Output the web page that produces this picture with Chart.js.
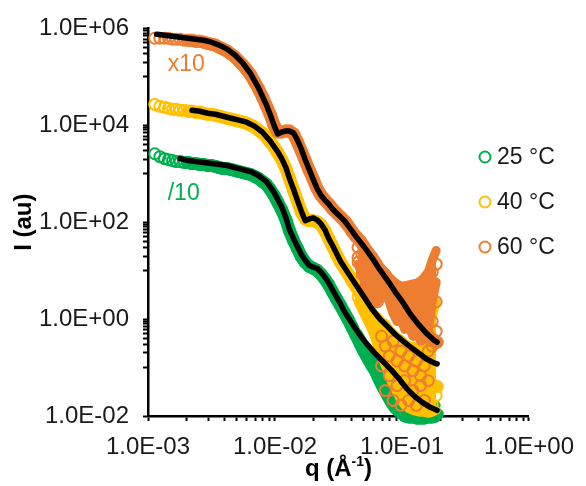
<!DOCTYPE html>
<html>
<head>
<meta charset="utf-8">
<script src="https://cdn.jsdelivr.net/npm/chart.js@4.4.1/dist/chart.umd.min.js"></script>
<style>
  html, body { margin: 0; padding: 0; background: #fff; }
  #wrap { width: 586px; height: 486px; }
</style>
</head>
<body>
<div id="wrap"><canvas id="saxs"></canvas></div>
<script>
// scattering vector q (1/Å), shared by the three runs
const qData = [
  1.13e-3, 1.24e-3, 1.35e-3, 1.45e-3, 1.56e-3, 1.67e-3, 1.79e-3, 1.93e-3, 2.07e-3, 2.22e-3,
  2.38e-3, 2.56e-3, 2.75e-3, 2.95e-3, 3.16e-3, 3.40e-3, 3.64e-3, 3.91e-3, 4.20e-3, 4.51e-3,
  4.84e-3, 5.19e-3, 5.57e-3, 5.98e-3, 6.42e-3, 6.89e-3, 7.40e-3, 7.94e-3, 8.53e-3, 9.15e-3,
  9.82e-3, 1.05e-2, 1.13e-2, 1.22e-2, 1.30e-2, 1.40e-2, 1.50e-2, 1.61e-2, 1.73e-2, 1.86e-2,
  2.00e-2, 2.14e-2, 2.30e-2, 2.47e-2, 2.65e-2, 2.84e-2, 3.05e-2, 3.28e-2, 3.52e-2, 3.77e-2,
  4.05e-2, 4.35e-2, 4.67e-2, 5.01e-2, 5.38e-2, 5.78e-2, 6.20e-2, 6.65e-2, 7.14e-2, 7.67e-2,
  8.23e-2, 8.83e-2, 9.48e-2, 0.102, 0.109, 0.117, 0.126, 0.135, 0.145, 0.156,
  0.167, 0.179, 0.189
];

// intensities (au); 25 °C shown /10, 60 °C shown x10
const i25 = [
  2.59e3, 2.25e3, 2.05e3, 1.95e3, 1.87e3, 1.78e3, 1.78e3, 1.70e3, 1.70e3, 1.62e3,
  1.62e3, 1.55e3, 1.55e3, 1.48e3, 1.48e3, 1.41e3, 1.34e3, 1.28e3, 1.28e3, 1.22e3,
  1.17e3, 1.11e3, 1.06e3, 1.01e3, 967, 881, 802, 697, 605, 479,
  361, 260, 179, 112, 66.8, 41.8, 28.7, 19.7, 14.9, 12.3,
  11.2, 10.2, 8.48, 6.71, 5.07, 3.65, 2.63, 1.89, 1.36, 0.981,
  0.674, 0.463, 0.318, 0.219, 0.158, 0.113, 0.0856, 0.0646, 0.0488, 0.0368,
  0.0291, 0.0230, 0.0191, 0.0166, 0.0144, 0.0131, 0.0119, 0.0114, 0.0109, 0.0109,
  0.0104, 0.0104, 0.0109
];
const i40 = [
  2.70e4, 2.46e4, 2.35e4, 2.24e4, 2.14e4, 2.14e4, 2.04e4, 2.04e4, 1.95e4, 1.95e4,
  1.86e4, 1.86e4, 1.77e4, 1.69e4, 1.69e4, 1.61e4, 1.54e4, 1.47e4, 1.40e4, 1.34e4,
  1.28e4, 1.22e4, 1.16e4, 1.11e4, 1.01e4, 9.19e3, 7.98e3, 6.94e3, 5.75e3, 4.55e3,
  3.60e3, 2.72e3, 1.95e3, 1.28e3, 802, 457, 273, 163, 117, 107,
  107, 102, 88.5, 66.8, 45.9, 31.5, 21.7, 14.9, 11.2, 8.48,
  6.11, 4.61, 3.48, 2.39, 1.72, 1.24, 0.893, 0.643, 0.486, 0.366,
  0.277, 0.219, 0.173, 0.137, 0.113, 0.0940, 0.0780, 0.0677, 0.0588, 0.0511,
  0.0465, 0.0424, 0.0404
];
const i60 = [
  6.26e5, 6.26e5, 6.26e5, 6.26e5, 5.97e5, 5.97e5, 5.97e5, 5.69e5, 5.69e5, 5.69e5,
  5.43e5, 5.43e5, 5.19e5, 4.95e5, 4.72e5, 4.51e5, 4.10e5, 3.74e5, 3.40e5, 2.95e5,
  2.57e5, 2.13e5, 1.76e5, 1.40e5, 1.10e5, 7.95e4, 5.72e4, 3.93e4, 2.58e4, 1.69e4,
  1.01e4, 7.27e3, 7.27e3, 7.62e3, 7.62e3, 6.62e3, 4.55e3, 2.98e3, 1.87e3, 1.17e3,
  765, 502, 361, 286, 237, 187, 155, 129, 107, 84.5,
  63.7, 50.4, 41.8, 31.5, 23.8, 18.8, 14.2, 10.7, 8.48, 6.40,
  4.83, 3.65, 2.75, 2.18, 1.64, 1.24, 0.981, 0.776, 0.614, 0.509,
  0.422, 0.366, 0.334
];

// noisy high-q tail: extra readings at these q
const qTail = [
  0.0451, 0.0484, 0.0519, 0.0557, 0.0598, 0.0642, 0.0690, 0.0740, 0.0794, 0.0852,
  0.0915, 0.0982, 0.105, 0.113, 0.122, 0.130, 0.140, 0.150, 0.161, 0.173, 0.186
];
const tail25a = [0.509, 0.366, 0.264, 0.190, 0.137, 0.103, 0.0780, 0.0588, 0.0465, 0.0368, 0.0305, 0.0253, 0.0210, 0.0191, 0.0174, 0.0166, 0.0158, 0.0158, 0.0158, 0.0166, 0.0166];
const tail25b = [0.318, 0.219, 0.158, 0.113, 0.0818, 0.0536, 0.0368, 0.0265, 0.0191, 0.0144, 0.0119, 0.0104, 0.0090, 0.0086, 0.0086, 0.0082, 0.0082, 0.0082, 0.0086, 0.0086, 0.0090];
const tail40a = [4.40, 3.17, 2.28, 1.72, 1.30, 1.13, 0.893, 0.813, 0.614, 0.509, 0.422, 0.384, 0.318, 0.277, 0.277, 0.240, 0.277, 0.350, 0.559, 1.13, 2.28];
const tail40b = [2.88, 2.08, 1.43, 1.03, 0.740, 0.442, 0.318, 0.199, 0.137, 0.0940, 0.0677, 0.0488, 0.0368, 0.0291, 0.0230, 0.0210, 0.0174, 0.0166, 0.0158, 0.0174, 0.0265];
const tail40c = [2.28, 1.57, 1.08, 0.740, 0.486, 0.277, 0.173, 0.108, 0.0677, 0.0424, 0.0305, 0.0210, 0.0166, 0.0144, 0.0131, 0.0125, 0.0119, 0.0119, 0.0114, 0.0119, 0.0131];
const tail60a = [52.8, 38.0, 28.7, 22.7, 18.0, 13.6, 11.2, 9.32, 7.37, 6.11, 5.31, 4.83, 4.83, 5.07, 5.31, 5.56, 6.11, 7.37, 9.32, 16.4, 26.1];
const tail60b = [30.1, 21.7, 14.9, 11.2, 9.32, 9.32, 7.37, 5.07, 3.65, 2.28, 1.81, 2.28, 1.43, 1.81, 1.13, 2.28, 1.43, 2.88, 4.61, 9.32, 13.6];
const tail60c = [13.6, 8.48, 4.83, 3.02, 2.28, 2.28, 5.07, 3.32, 2.28, 1.30, 0.893, 0.981, 0.614, 0.707, 0.442, 0.559, 0.350, 0.384, 0.559, 2.28, 5.83];
const tail60d = [18.8, 11.2, 7.03, 4.61, 3.32, 3.65, 0.442, 0.277, 0.173, 0.350, 0.137, 0.219, 0.108, 0.173, 0.0856, 0.137, 0.0677, 0.108, 0.219, 0.893, 2.28];
const tail60e = [14.9, 8.48, 4.83, 3.02, 2.28, 2.28, 0.108, 0.0335, 0.0677, 0.0210, 0.0424, 0.0166, 0.0536, 0.0210, 0.0335, 0.0166, 0.0424, 0.0210, 0.0536, 0.277, 0.559];

// model fits (black lines)
const qFit25 = [
  1.79e-3, 2.07e-3, 2.38e-3, 2.75e-3, 3.16e-3, 3.64e-3, 4.20e-3, 4.84e-3, 5.57e-3, 6.42e-3,
  7.40e-3, 8.53e-3, 9.82e-3, 1.13e-2, 1.22e-2, 1.30e-2, 1.40e-2, 1.50e-2, 1.61e-2, 1.73e-2,
  1.86e-2, 2.00e-2, 2.14e-2, 2.30e-2, 2.47e-2, 2.65e-2, 2.84e-2, 3.05e-2, 3.28e-2, 3.52e-2,
  4.05e-2, 4.67e-2, 5.38e-2, 6.20e-2, 7.14e-2, 8.23e-2, 9.48e-2, 0.109, 0.126, 0.145,
  0.167, 0.189
];
const iFit25 = [
  2.05e3, 1.87e3, 1.78e3, 1.70e3, 1.62e3, 1.55e3, 1.48e3, 1.34e3, 1.22e3, 1.11e3,
  923, 697, 416, 206, 123, 70.0, 45.9, 31.5, 21.7, 16.4,
  12.9, 11.8, 11.2, 9.32, 7.37, 5.56, 4.01, 2.88, 2.08, 1.43,
  0.813, 0.463, 0.290, 0.190, 0.131, 0.0897, 0.0588, 0.0368, 0.0253, 0.0191,
  0.0151, 0.0131
];
const qFit40 = [
  2.22e-3, 2.56e-3, 2.95e-3, 3.40e-3, 3.91e-3, 4.51e-3, 5.19e-3, 5.98e-3, 6.89e-3, 7.94e-3,
  9.15e-3, 1.05e-2, 1.13e-2, 1.22e-2, 1.30e-2, 1.40e-2, 1.50e-2, 1.61e-2, 1.73e-2, 1.86e-2,
  2.00e-2, 2.14e-2, 2.30e-2, 2.47e-2, 2.65e-2, 2.84e-2, 3.28e-2, 3.77e-2, 4.35e-2, 5.01e-2,
  5.78e-2, 6.65e-2, 7.67e-2, 8.83e-2, 0.102, 0.117, 0.135, 0.156, 0.179, 0.189
];
const iFit40 = [
  2.04e4, 1.95e4, 1.77e4, 1.69e4, 1.54e4, 1.40e4, 1.28e4, 1.16e4, 9.63e3, 7.27e3,
  4.77e3, 2.85e3, 2.05e3, 1.34e3, 802, 479, 286, 171, 107, 117,
  123, 112, 92.7, 70.0, 45.9, 33.0, 15.6, 8.89, 5.07, 2.88,
  1.64, 1.03, 0.707, 0.486, 0.350, 0.264, 0.199, 0.150, 0.125, 0.119
];
const qFit60 = [
  1.17e-3, 1.35e-3, 1.56e-3, 1.79e-3, 2.07e-3, 2.38e-3, 2.75e-3, 3.16e-3, 3.64e-3, 4.20e-3,
  4.84e-3, 5.57e-3, 6.42e-3, 7.40e-3, 8.53e-3, 9.15e-3, 9.82e-3, 1.05e-2, 1.13e-2, 1.22e-2,
  1.30e-2, 1.40e-2, 1.50e-2, 1.61e-2, 1.73e-2, 1.86e-2, 2.00e-2, 2.14e-2, 2.30e-2, 2.47e-2,
  2.65e-2, 2.84e-2, 3.05e-2, 3.28e-2, 3.52e-2, 3.77e-2, 4.35e-2, 5.01e-2, 5.78e-2, 6.65e-2,
  7.67e-2, 8.83e-2, 0.102, 0.117, 0.135, 0.156, 0.179, 0.189
];
const iFit60 = [
  7.55e5, 7.20e5, 6.87e5, 6.56e5, 6.26e5, 5.97e5, 5.69e5, 5.19e5, 4.51e5, 3.74e5,
  2.82e5, 1.94e5, 1.16e5, 6.00e4, 2.70e4, 1.69e4, 1.01e4, 6.62e3, 7.27e3, 7.62e3,
  7.62e3, 6.94e3, 4.99e3, 3.28e3, 1.95e3, 1.22e3, 765, 502, 361, 286,
  237, 187, 155, 129, 107, 84.5, 50.4, 31.5, 18.8, 10.7,
  6.40, 3.65, 2.18, 1.24, 0.776, 0.509, 0.366, 0.334
];

const seriesLabels = ['25 °C', '40 °C', '60 °C'];
const xMajor = [1e-3, 1e-2, 1e-1, 1e0];
const yMajor = [1e-2, 1e0, 1e2, 1e4, 1e6];

const GREEN = '#00B050', YELLOW = '#FFC000', ORANGE = '#ED7D31';
const FONT = "'Liberation Sans', Arial, sans-serif";
const SOLID_FROM = 8;   // where the circles merge into one band

const pts = (qs, is) => qs.map((q, k) => ({ x: q, y: is[k] }));

function expLabel(v) {
  const e = Math.round(Math.log10(v));
  return '1.0E' + (e < 0 ? '-' : '+') + String(Math.abs(e)).padStart(2, '0');
}
function isMajor(v, majors) {
  return majors.some(m => Math.abs(m - v) / m < 1e-6);
}
// Excel style minor ticks: unit = next major / 10
function allTicks(majors) {
  const out = majors.slice();
  for (let n = 0; n < majors.length - 1; n++) {
    const lo = majors[n], unit = majors[n + 1] / 10;
    for (let k = 1; k < 10; k++) {
      if (unit * k > lo * 1.0001) out.push(unit * k);
    }
  }
  return out.sort((a, b) => a - b).map(v => ({ value: v }));
}

// open circles of one run
function circles(label, color, order, main, tails) {
  let data = pts(qData, main);
  tails.forEach(t => { data = data.concat(pts(qTail, t)); });
  return {
    type: 'scatter', label: label, isData: true, data: data, order: order,
    showLine: false, clip: false,
    pointStyle: 'circle', pointRadius: 5.5, pointBorderWidth: 2,
    borderColor: color, backgroundColor: 'rgba(0,0,0,0)',
    pointBorderColor: color, pointBackgroundColor: 'rgba(0,0,0,0)'
  };
}
// dense part of a run, where the circles overlap into a solid band
function band(color, order, main) {
  return {
    type: 'line', label: 'band', data: pts(qData.slice(SOLID_FROM), main.slice(SOLID_FROM)),
    order: order, clip: false, borderColor: color, borderWidth: 13, pointRadius: 0,
    borderJoinStyle: 'round', borderCapStyle: 'round', fill: false, tension: 0
  };
}
// spread of the noisy tail, upper edge filled down to the lower edge
function spread(color, order, rows, fillTo) {
  return {
    type: 'line', label: 'spread', data: pts(qTail, rows), order: order, clip: false,
    borderColor: color, backgroundColor: color, borderWidth: 9, pointRadius: 0,
    borderJoinStyle: 'round', borderCapStyle: 'round', tension: 0,
    fill: fillTo === undefined ? false : fillTo
  };
}
function fitSet(qs, is) {
  return {
    type: 'line', label: 'fit', data: pts(qs, is), order: 0,
    borderColor: '#000', borderWidth: 5.5, pointRadius: 0, fill: false,
    borderJoinStyle: 'round', borderCapStyle: 'round', tension: 0
  };
}

const extras = {
  id: 'extras',
  afterDraw(chart) {
    const ctx = chart.ctx, xs = chart.scales.x, ys = chart.scales.y;
    ctx.save();
    // labels for the shifted curves
    const notes = [
      { text: 'x10', q: 1.43e-3, i: 1.76e5, color: ORANGE },
      { text: '/10', q: 1.43e-3, i: 397, color: GREEN }
    ];
    ctx.font = '23px ' + FONT;
    ctx.textBaseline = 'middle';
    ctx.textAlign = 'left';
    notes.forEach(n => {
      ctx.fillStyle = n.color;
      ctx.fillText(n.text, xs.getPixelForValue(n.q), ys.getPixelForValue(n.i));
    });
    // legend
    const sets = chart.data.datasets.filter(d => d.isData);
    sets.forEach((d, k) => {
      const y = 157 + 45 * k;
      ctx.beginPath();
      ctx.lineWidth = 2;
      ctx.strokeStyle = d.borderColor;
      ctx.arc(485, y, 5.5, 0, Math.PI * 2);
      ctx.stroke();
      ctx.fillStyle = '#1a1a1a';
      ctx.fillText(d.label, 497, y + 1);
    });
    // x axis title with superscript
    const cx = (chart.chartArea.left + chart.chartArea.right) / 2;
    const base = 476;
    const big = 'bold 24px ' + FONT, small = 'bold 14px ' + FONT;
    ctx.font = big; const w1 = ctx.measureText('q (Å').width;
    ctx.font = small; const w2 = ctx.measureText('-1').width;
    ctx.font = big; const w3 = ctx.measureText(')').width;
    const x0 = cx - (w1 + w2 + w3) / 2;
    ctx.fillStyle = '#000';
    ctx.textBaseline = 'alphabetic';
    ctx.font = big; ctx.fillText('q (Å', x0, base);
    ctx.font = small; ctx.fillText('-1', x0 + w1, base - 10);
    ctx.font = big; ctx.fillText(')', x0 + w1 + w2, base);
    ctx.restore();
  }
};

// dataset indexes matter for the fills (absolute targets)
const datasets = [
  fitSet(qFit60, iFit60),                                    // 0
  fitSet(qFit40, iFit40),                                    // 1
  fitSet(qFit25, iFit25),                                    // 2
  circles(seriesLabels[0], GREEN, 30, i25, []),              // 3
  circles(seriesLabels[1], YELLOW, 20, i40, [tail40b]),      // 4
  circles(seriesLabels[2], ORANGE, 10, i60, [tail60b, tail60d, tail60e]), // 5
  band(ORANGE, 11, i60),                                     // 6
  spread(ORANGE, 12, tail60a, 8),                            // 7
  spread(ORANGE, 12, tail60c),                               // 8
  band(YELLOW, 21, i40),                                     // 9
  spread(YELLOW, 22, tail40a, 11),                           // 10
  spread(YELLOW, 22, tail40c),                               // 11
  band(GREEN, 31, i25),                                      // 12
  spread(GREEN, 32, tail25a, 14),                            // 13
  spread(GREEN, 32, tail25b)                                 // 14
];

new Chart(document.getElementById('saxs'), {
  type: 'scatter',
  data: { datasets: datasets },
  options: {
    responsive: true,
    maintainAspectRatio: false,
    animation: false,
    events: [],
    layout: { padding: { top: 23, right: 48, left: 0, bottom: 0 } },
    plugins: { legend: { display: false }, tooltip: { enabled: false } },
    scales: {
      x: {
        type: 'logarithmic', min: 1e-3, max: 1,
        afterBuildTicks: s => { s.ticks = allTicks(xMajor); },
        afterFit: s => { s.height = 70; },
        border: { color: '#000', width: 2.5 },
        grid: { drawOnChartArea: false, drawTicks: true, tickLength: 5, tickColor: '#000', tickWidth: 2 },
        ticks: {
          autoSkip: false, maxRotation: 0, padding: 12, color: '#1a1a1a',
          font: { family: FONT, size: 24 },
          callback: v => isMajor(v, xMajor) ? expLabel(v) : ''
        }
      },
      y: {
        type: 'logarithmic', min: 1e-2, max: 1e6,
        afterBuildTicks: s => { s.ticks = allTicks(yMajor); },
        afterFit: s => { s.width = 148; },
        border: { color: '#000', width: 2.5 },
        grid: { drawOnChartArea: false, drawTicks: true, tickLength: 5, tickColor: '#000', tickWidth: 2 },
        title: {
          display: true, text: 'I (au)', color: '#000',
          font: { family: FONT, size: 24, weight: 'bold' },
          padding: { top: 10, bottom: 0 }
        },
        ticks: {
          autoSkip: false, padding: 14, color: '#1a1a1a',
          font: { family: FONT, size: 24 },
          callback: v => isMajor(v, yMajor) ? expLabel(v) : ''
        }
      }
    }
  },
  plugins: [extras]
});
</script>
</body>
</html>
